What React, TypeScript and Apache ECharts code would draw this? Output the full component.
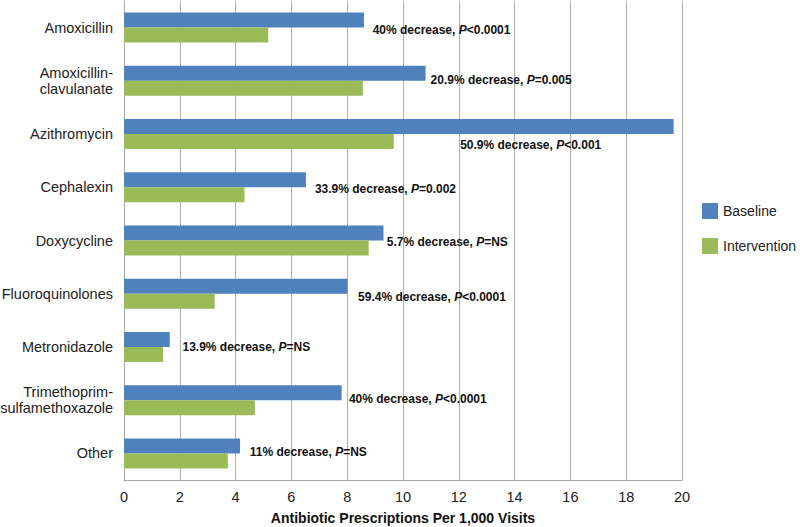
import React, { useEffect, useRef } from "react";
import * as echarts from "echarts";

const categories = [
  "Amoxicillin",
  "Amoxicillin-\nclavulanate",
  "Azithromycin",
  "Cephalexin",
  "Doxycycline",
  "Fluoroquinolones",
  "Metronidazole",
  "Trimethoprim-\nsulfamethoxazole",
  "Other",
];
const baseline = [8.6, 10.81, 19.7, 6.52, 9.3, 8.01, 1.64, 7.8, 4.16];
const intervention = [5.17, 8.56, 9.67, 4.32, 8.77, 3.25, 1.4, 4.69, 3.72];
const decreases = ["40%", "20.9%", "50.9%", "33.9%", "5.7%", "59.4%", "13.9%", "40%", "11%"];
const pValues = ["<0.0001", "=0.005", "<0.001", "=0.002", "=NS", "<0.0001", "=NS", "<0.0001", "=NS"];
const xTicks = [0, 20, 2]; // min, max, interval

// label placement relative to the end of the baseline bar (layout only)
const labelOffsets: [number, number][] = [
  [8.7, 10],
  [5, 6.5],
  [-213.5, 18.5],
  [9, 9],
  [3.3, 8.8],
  [10.6, 11.2],
  [12.7, 7.5],
  [7.3, 6],
  [9.7, 6],
];

const FONT = "'Liberation Sans', Arial, sans-serif";

export default function App() {
  const ref = useRef<HTMLDivElement>(null);
  useEffect(() => {
    if (!ref.current) return;
    const chart = echarts.init(ref.current, undefined, { renderer: "svg" });
    const baseData = baseline.map((v, i) => ({
      value: v,
      label: {
        show: true,
        position: "right",
        distance: 0,
        offset: labelOffsets[i],
        formatter: `{b|${decreases[i]} decrease, }{i|P}{b|${pValues[i]}}`,
        rich: {
          b: { fontFamily: FONT, fontSize: 12, fontWeight: "bold", color: "#111" },
          i: { fontFamily: FONT, fontSize: 12, fontWeight: "bold", fontStyle: "italic", color: "#111" },
        },
      },
    }));
    chart.setOption({
      animation: false,
      backgroundColor: "#fff",
      textStyle: { fontFamily: FONT },
      grid: { left: 124, right: 118, top: 1, bottom: 47, containLabel: false, outerBoundsMode: "none" },
      legend: {
        orient: "vertical",
        left: 697,
        top: 198,
        itemWidth: 16,
        itemHeight: 16,
        itemGap: 19,
        icon: "rect",
        textStyle: { fontFamily: FONT, fontSize: 14, color: "#222" },
        data: ["Baseline", "Intervention"],
      },
      xAxis: {
        type: "value",
        min: xTicks[0],
        max: xTicks[1],
        interval: xTicks[2],
        name: "Antibiotic Prescriptions Per 1,000 Visits",
        nameLocation: "middle",
        nameGap: 31,
        nameTextStyle: { fontFamily: FONT, fontSize: 14, fontWeight: "bold", color: "#111" },
        axisLine: { show: true, lineStyle: { color: "#a6a6a6", width: 1 } },
        axisTick: { show: false },
        axisLabel: { margin: 9, fontFamily: FONT, fontSize: 14.5, color: "#222" },
        splitLine: { show: true, lineStyle: { color: "#b0b0b0", width: 1 } },
      },
      yAxis: {
        type: "category",
        inverse: true,
        data: categories,
        axisLine: { show: true, lineStyle: { color: "#a6a6a6", width: 1 } },
        axisTick: { show: false },
        axisLabel: {
          margin: 11,
          fontFamily: FONT,
          fontSize: 14.5,
          color: "#222",
          lineHeight: 16,
          align: "right",
        },
      },
      series: [
        {
          name: "Baseline",
          type: "bar",
          data: baseData,
          barWidth: 15,
          barGap: "0%",
          itemStyle: { color: "#4F81BD" },
        },
        {
          name: "Intervention",
          type: "bar",
          data: intervention,
          barWidth: 15,
          barGap: "0%",
          itemStyle: { color: "#9BBB59" },
        },
      ],
    });
    return () => chart.dispose();
  }, []);
  return <div ref={ref} style={{ width: 800, height: 527, position: "absolute", left: 0, top: 0 }} />;
}
